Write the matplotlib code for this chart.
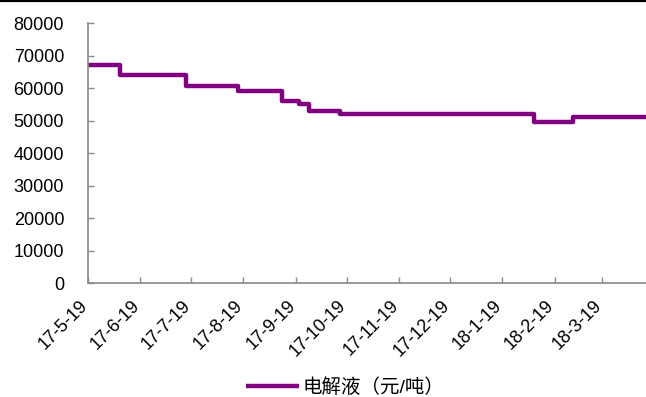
import datetime as dt

import matplotlib
matplotlib.use('Agg')
import matplotlib.pyplot as plt
import matplotlib.transforms as mtransforms
from matplotlib.lines import Line2D

plt.rcParams['font.family'] = ['Liberation Sans', 'Noto Sans CJK SC', 'DejaVu Sans']

# Price change points (date the new price starts)
dates = ['2017-05-19', '2017-06-07', '2017-07-16', '2017-08-16', '2017-09-11',
         '2017-09-21', '2017-09-27', '2017-10-15', '2018-02-07', '2018-03-02',
         '2018-04-14']
prices = [67000, 64000, 60500, 59000, 56000, 55000, 53000, 52000, 49500, 51000, 51000]
tick_dates = ['2017-05-19', '2017-06-19', '2017-07-19', '2017-08-19', '2017-09-19',
              '2017-10-19', '2017-11-19', '2017-12-19', '2018-01-19', '2018-02-19',
              '2018-03-19']
tick_labels = ['17-5-19', '17-6-19', '17-7-19', '17-8-19', '17-9-19', '17-10-19',
               '17-11-19', '17-12-19', '18-1-19', '18-2-19', '18-3-19']

xs = [dt.datetime.strptime(d, '%Y-%m-%d') for d in dates]
ticks = [dt.datetime.strptime(d, '%Y-%m-%d') for d in tick_dates]

fig = plt.figure(figsize=(6.46, 3.97), dpi=100)
ax = fig.add_axes([0.136, 0.287, 0.864, 0.655])

ax.plot(xs, prices, color='#800080', linewidth=3.2, drawstyle='steps-post',
        label='电解液（元/吨）', solid_joinstyle='round', solid_capstyle='butt')

ax.set_xlim(xs[0], xs[-1])
ax.set_ylim(0, 80000)
ax.set_yticks(range(0, 80001, 10000))
ax.set_xticks(ticks)
ax.set_xticklabels(tick_labels, rotation=45, ha='right')
ax.tick_params(axis='both', labelsize=13, colors='black', length=4,
               direction='in', color='#898989', width=1)
ax.tick_params(axis='y', pad=17)
ax.tick_params(axis='x', pad=10)

# nudge date labels a little to the right, like the original
shift = mtransforms.ScaledTranslation(3 / 100, 0, fig.dpi_scale_trans)
for lbl in ax.get_xticklabels():
    lbl.set_transform(lbl.get_transform() + shift)

for side in ['top', 'right']:
    ax.spines[side].set_visible(False)
for side in ['left', 'bottom']:
    ax.spines[side].set_color('#898989')
    ax.spines[side].set_linewidth(1.2)

# black rule along the top edge
fig.add_artist(Line2D([0, 1], [0.998, 0.998], color='black', linewidth=1.6,
                      transform=fig.transFigure))

fig.legend(loc='center', bbox_to_anchor=(0.535, 0.025), frameon=False,
           fontsize=14, handlelength=2.7, handletextpad=0.2, borderpad=0)

fig.savefig('out.png', dpi=100)
